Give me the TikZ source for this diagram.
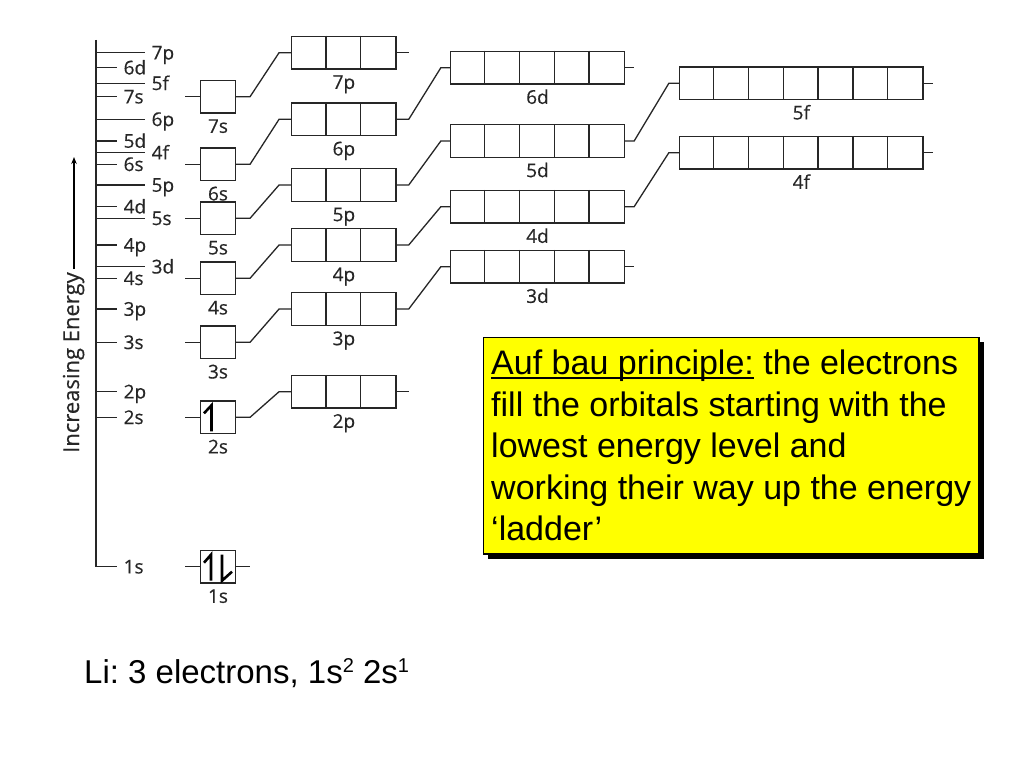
\documentclass[tikz,border=0pt]{standalone}
\usepackage{fontspec}
\usepackage{tikz}
\usetikzlibrary{arrows.meta,positioning,shadows}
\newfontfamily\labelfont[FakeBold=0.4]{Open Sans}
\newfontfamily\notefont{Liberation Sans}
\definecolor{noteyellow}{RGB}{255,255,0}
\newsavebox\undlbox
\newcommand{\undl}[1]{\sbox\undlbox{#1}\rlap{\rule[-4pt]{\wd\undlbox}{1.7pt}}\usebox\undlbox}
\newcommand{\supnum}[1]{\raisebox{0.33em}{\fontsize{20}{20}\selectfont #1}}
\frenchspacing

\begin{document}
\begin{tikzpicture}[
    x=1pt, y=-1pt,
    lvl/.style={font=\labelfont\fontsize{19}{19}\selectfont, text=black!85, inner sep=0pt, text height=13.5pt, text depth=0pt},
    tick/.style={draw=black!85, line width=1.3pt},
    orb/.style={draw=black!85, line width=1.3pt, minimum height=32.6pt, inner sep=0pt},
    sorb/.style={orb, minimum width=34.8pt},
    porb/.style={orb, minimum width=104.4pt},
    dorb/.style={orb, minimum width=174pt},
    forb/.style={orb, minimum width=243.6pt},
    link/.style={draw=black!85, line width=1.3pt},
    spin/.style={draw=black, line width=2.6pt},
    arrow/.style={-{Stealth[length=7pt, width=5.5pt]}, line width=1.2pt},
    note/.style={draw=black, line width=1.5pt, fill=noteyellow, minimum width=495.6pt, minimum height=216.6pt, align=left,
        font=\notefont\fontsize{34}{41.5}\selectfont,
        drop shadow={shadow xshift=4.5pt, shadow yshift=-4.5pt, fill=black, opacity=1}}
]
\fill[white] (0,0) rectangle (1024,768);
\useasboundingbox (0,0) rectangle (1024,768);

% energy scale
\draw[tick] (96,40) -- (96,566.7) -- ++(21,0) node[lvl, right=6pt] (t1s) {1s};
\foreach \lab/\yy/\len in {7p/52.7/49, 6d/67.7/21, 5f/83.3/49, 7s/96.7/21, 6p/119.3/49, 5d/141/21,
    4f/152.7/49, 6s/164.3/21, 5p/185/49, 4d/206.7/21, 5s/218.3/49, 4p/245/21, 3d/266.7/49,
    4s/278.3/21, 3p/309/21, 3s/342.3/21, 2p/391.7/21, 2s/417.3/21}
    \draw[tick] (96,\yy) -- ++(\len,0) node[lvl, right=6pt] (t\lab) {\lab};

\node[lvl, font=\labelfont\fontsize{22}{22}\selectfont, text height=15pt, text depth=5pt, inner sep=3pt, rotate=90, anchor=west] (energy) at (74,456) {Increasing Energy};
\coordinate (etop) at (74,157);
\draw[arrow] (energy.east) -- (energy.east |- etop);

% s orbitals
\node[sorb] (o1s) at (218,566.7) {};
\node[sorb] (o2s) at (218,417.3) {};
\node[sorb] (o3s) at (218,342.3) {};
\node[sorb] (o4s) at (218,278.3) {};
\node[sorb] (o5s) at (218,218.3) {};
\node[sorb] (o6s) at (218,164.3) {};
\node[sorb] (o7s) at (218,96.7) {};

% p orbitals
\node[porb] (o2p) at (343.9,391.7) {};
\node[porb] (o3p) at (343.9,309) {};
\node[porb] (o4p) at (343.9,245) {};
\node[porb] (o5p) at (343.9,185) {};
\node[porb] (o6p) at (343.9,119.3) {};
\node[porb] (o7p) at (343.9,52.7) {};

% d orbitals
\node[dorb] (o3d) at (537.5,266.7) {};
\node[dorb] (o4d) at (537.5,206.7) {};
\node[dorb] (o5d) at (537.5,141) {};
\node[dorb] (o6d) at (537.5,67.7) {};

% f orbitals
\node[forb] (o4f) at (801.3,152.7) {};
\node[forb] (o5f) at (801.3,83.3) {};

% cell walls
\foreach \o in {o2p,o3p,o4p,o5p,o6p,o7p}
    \foreach \k in {1,2}
        \draw[link] ([xshift=\k*34.8pt]\o.north west) -- ([xshift=\k*34.8pt]\o.south west);
\foreach \o in {o3d,o4d,o5d,o6d}
    \foreach \k in {1,...,4}
        \draw[link] ([xshift=\k*34.8pt]\o.north west) -- ([xshift=\k*34.8pt]\o.south west);
\foreach \o in {o4f,o5f}
    \foreach \k in {1,...,6}
        \draw[link] ([xshift=\k*34.8pt]\o.north west) -- ([xshift=\k*34.8pt]\o.south west);

\foreach \o in {1s,2s,3s,4s,5s,6s,7s,2p,3p,4p,5p,6p,7p,3d,4d,5d,6d,4f,5f}
    \node[lvl, below=5.5pt of o\o] (n\o) {\o};

% leads
\foreach \o in {o1s,o2s,o3s,o4s,o5s,o6s,o7s}
    \draw[link] (\o.west) -- ++(-15,0);
\draw[link] (o1s.east) -- ++(14,0);
\foreach \a/\b in {o2s/o2p, o3s/o3p, o4s/o4p, o5s/o5p, o6s/o6p, o7s/o7p}
    \draw[link] (\a.east) -- ++(14,0) -- ([xshift=-12pt]\b.west) -- (\b.west);
\foreach \a/\b in {o3p/o3d, o4p/o4d, o5p/o5d, o6p/o6d}
    \draw[link] (\a.east) -- ++(12,0) -- ([xshift=-9pt]\b.west) -- (\b.west);
\foreach \a/\b in {o4d/o4f, o5d/o5f}
    \draw[link] (\a.east) -- ++(9,0) -- ([xshift=-10pt]\b.west) -- (\b.west);
\draw[link] (o2p.east) -- ++(12,0);
\draw[link] (o7p.east) -- ++(12,0);
\draw[link] (o3d.east) -- ++(9,0);
\draw[link] (o6d.east) -- ++(9,0);
\draw[link] (o4f.east) -- ++(9.5,0);
\draw[link] (o5f.east) -- ++(9.5,0);

% electrons
\draw[spin] ([shift={(-7,14)}]o1s.center) -- ([shift={(-7,-12)}]o1s.center) -- ([shift={(-14,-4)}]o1s.center);
\draw[spin] ([shift={(4,-12)}]o1s.center) -- ([shift={(4,14)}]o1s.center) -- ([shift={(14,5)}]o1s.center);
\draw[spin] ([shift={(-6.5,14)}]o2s.center) -- ([shift={(-6.5,-12)}]o2s.center) -- ([shift={(-14,-4)}]o2s.center);

% note
\node[note, anchor=north west] (aufbau) at (482.7,336.7) {\undl{Auf bau principle:} the electrons\\
fill the orbitals starting with the\\
lowest energy level and\\
working their way up the energy\\
‘ladder’};

\node[font=\notefont\fontsize{33}{38}\selectfont, inner sep=0pt, anchor=base west] (li) at (84,683.3)
    {Li: 3 electrons, 1s\supnum{2} 2s\supnum{1}};

\end{tikzpicture}
\end{document}
